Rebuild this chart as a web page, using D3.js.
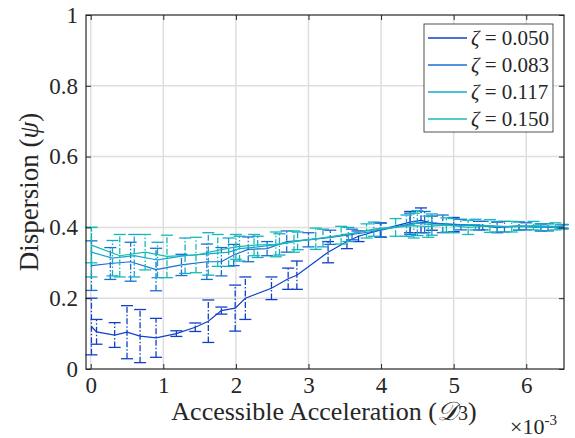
<!DOCTYPE html>
<html>
<head>
<meta charset="utf-8">
<script src="https://cdnjs.cloudflare.com/ajax/libs/d3/7.8.5/d3.min.js"></script>
<style>
  body { margin: 0; background: #fff; }
</style>
</head>
<body>
<script>
// series labels and colours
const zetas = ['0.050', '0.083', '0.117', '0.150'];
const colors = ['#1040c8', '#1a6ed2', '#16a8cc', '#14bdb3'];

// zeta = 0.050
const x1 = [0.01, 0.08, 0.33, 0.50, 0.68, 0.90, 1.18, 1.44, 1.62, 1.80, 1.99, 2.13, 2.49, 2.72, 2.84, 3.27, 3.53, 3.69, 3.99, 4.40, 4.55, 4.70, 5.00, 5.35, 5.60, 5.90, 6.20, 6.50];
const y1 = [0.120, 0.105, 0.096, 0.104, 0.093, 0.088, 0.100, 0.118, 0.135, 0.165, 0.172, 0.200, 0.228, 0.255, 0.265, 0.330, 0.360, 0.375, 0.393, 0.415, 0.420, 0.412, 0.408, 0.405, 0.400, 0.404, 0.400, 0.403];
const e1 = [0.080, 0.035, 0.035, 0.075, 0.075, 0.055, 0.008, 0.012, 0.060, 0.010, 0.065, 0.060, 0.032, 0.030, 0.040, 0.030, 0.020, 0.015, 0.020, 0.030, 0.035, 0.020, 0.020, 0.012, 0.015, 0.012, 0.010, 0.005];

// zeta = 0.083
const x2 = [0.01, 0.27, 0.55, 0.90, 1.25, 1.60, 1.80, 1.97, 2.17, 2.43, 2.70, 3.00, 3.30, 3.60, 4.00, 4.40, 4.60, 4.85, 5.10, 5.40, 5.70, 6.00, 6.30, 6.50];
const y2 = [0.292, 0.298, 0.303, 0.281, 0.294, 0.303, 0.303, 0.322, 0.338, 0.340, 0.360, 0.365, 0.372, 0.380, 0.392, 0.410, 0.415, 0.410, 0.408, 0.405, 0.402, 0.403, 0.400, 0.402];
const e2 = [0.070, 0.045, 0.055, 0.060, 0.030, 0.050, 0.040, 0.030, 0.035, 0.020, 0.030, 0.020, 0.020, 0.015, 0.020, 0.030, 0.030, 0.025, 0.015, 0.012, 0.015, 0.010, 0.010, 0.006];

// zeta = 0.117
const x3 = [0.01, 0.30, 0.60, 0.92, 1.30, 1.62, 1.90, 2.05, 2.30, 2.60, 2.85, 3.20, 3.55, 3.90, 4.35, 4.50, 4.70, 5.00, 5.30, 5.60, 5.90, 6.20, 6.50];
const y3 = [0.330, 0.313, 0.320, 0.308, 0.320, 0.325, 0.330, 0.340, 0.345, 0.352, 0.362, 0.370, 0.380, 0.395, 0.405, 0.412, 0.408, 0.405, 0.408, 0.402, 0.404, 0.400, 0.402];
const e3 = [0.070, 0.050, 0.060, 0.050, 0.050, 0.060, 0.040, 0.035, 0.030, 0.030, 0.025, 0.025, 0.020, 0.020, 0.030, 0.035, 0.030, 0.020, 0.015, 0.015, 0.012, 0.010, 0.006];

// zeta = 0.150
const x4 = [0.01, 0.40, 0.75, 1.05, 1.45, 1.75, 2.00, 2.25, 2.55, 2.80, 3.10, 3.45, 3.80, 4.20, 4.45, 4.65, 4.90, 5.20, 5.50, 5.80, 6.10, 6.40];
const y4 = [0.350, 0.320, 0.330, 0.318, 0.322, 0.335, 0.345, 0.350, 0.352, 0.360, 0.368, 0.378, 0.390, 0.400, 0.405, 0.402, 0.407, 0.400, 0.404, 0.402, 0.405, 0.403];
const e4 = [0.050, 0.060, 0.050, 0.060, 0.050, 0.045, 0.035, 0.030, 0.035, 0.030, 0.030, 0.025, 0.020, 0.025, 0.035, 0.030, 0.020, 0.020, 0.018, 0.015, 0.012, 0.010];

const xTicks = [0, 1, 2, 3, 4, 5, 6];
const yTicks = [0, 0.2, 0.4, 0.6, 0.8, 1];

const width = 575, height = 438;
const plot = { left: 86, right: 564, top: 15, bottom: 369 };
const serif = "'Liberation Serif', serif";
const textColor = '#262626';

const series = [
    { x: x1, y: y1, e: e1 },
    { x: x2, y: y2, e: e2 },
    { x: x3, y: y3, e: e3 },
    { x: x4, y: y4, e: e4 }
];

const xScale = d3.scaleLinear().domain([-0.065, 6.52]).range([plot.left, plot.right]);
const yScale = d3.scaleLinear().domain([0, 1]).range([plot.bottom, plot.top]);

const svg = d3.select('body')
    .append('svg')
    .attr('width', width)
    .attr('height', height)
    .attr('font-family', serif);

// grid
svg.append('g')
    .selectAll('line')
    .data(xTicks)
    .enter()
    .append('line')
    .attr('x1', d => xScale(d)).attr('x2', d => xScale(d))
    .attr('y1', plot.top).attr('y2', plot.bottom)
    .attr('stroke', '#dedede').attr('stroke-width', 1.5);

svg.append('g')
    .selectAll('line')
    .data(yTicks.slice(1, -1))
    .enter()
    .append('line')
    .attr('x1', plot.left).attr('x2', plot.right)
    .attr('y1', d => yScale(d)).attr('y2', d => yScale(d))
    .attr('stroke', '#dedede').attr('stroke-width', 1.5);

// error bars + lines
const capHalf = 6;
series.forEach((s, i) => {
    const pts = s.x.map((x, k) => ({ x: x, y: s.y[k], e: s.e[k] }));
    const g = svg.append('g').attr('stroke', colors[i]).attr('fill', 'none').attr('stroke-width', 1.3);

    g.selectAll('line.bar')
        .data(pts)
        .enter()
        .append('line')
        .attr('x1', d => xScale(d.x)).attr('x2', d => xScale(d.x))
        .attr('y1', d => yScale(d.y - d.e)).attr('y2', d => yScale(d.y + d.e))
        .attr('stroke-dasharray', '6,2,1.5,2');

    g.selectAll('line.capLo')
        .data(pts)
        .enter()
        .append('line')
        .attr('x1', d => xScale(d.x) - capHalf).attr('x2', d => xScale(d.x) + capHalf)
        .attr('y1', d => yScale(d.y - d.e)).attr('y2', d => yScale(d.y - d.e));

    g.selectAll('line.capHi')
        .data(pts)
        .enter()
        .append('line')
        .attr('x1', d => xScale(d.x) - capHalf).attr('x2', d => xScale(d.x) + capHalf)
        .attr('y1', d => yScale(d.y + d.e)).attr('y2', d => yScale(d.y + d.e));

    g.append('path')
        .datum(pts)
        .attr('stroke-width', 1.2)
        .attr('d', d3.line().x(d => xScale(d.x)).y(d => yScale(d.y)));
});

// axes (box with inward ticks)
const tickLen = 5;

const bottomAxis = svg.append('g')
    .attr('transform', `translate(0, ${plot.bottom})`)
    .call(d3.axisBottom(xScale).tickValues(xTicks).tickSize(-tickLen).tickPadding(8).tickFormat(d3.format('d')));
const topAxis = svg.append('g')
    .attr('transform', `translate(0, ${plot.top})`)
    .call(d3.axisTop(xScale).tickValues(xTicks).tickSize(-tickLen).tickFormat(''));
const leftAxis = svg.append('g')
    .attr('transform', `translate(${plot.left}, 0)`)
    .call(d3.axisLeft(yScale).tickValues(yTicks).tickSize(-tickLen).tickPadding(8).tickFormat(d => d === 0 || d === 1 ? d3.format('d')(d) : d3.format('.1f')(d)));
const rightAxis = svg.append('g')
    .attr('transform', `translate(${plot.right}, 0)`)
    .call(d3.axisRight(yScale).tickValues(yTicks).tickSize(-tickLen).tickFormat(''));

[bottomAxis, topAxis, leftAxis, rightAxis].forEach(a => {
    a.attr('font-family', serif).attr('font-size', 23);
    a.select('.domain').remove();
    a.selectAll('.tick line').attr('stroke', textColor).attr('stroke-width', 1);
    a.selectAll('.tick text').attr('fill', textColor).attr('font-family', serif);
});

svg.append('rect')
    .attr('x', plot.left).attr('y', plot.top)
    .attr('width', plot.right - plot.left).attr('height', plot.bottom - plot.top)
    .attr('fill', 'none').attr('stroke', textColor).attr('stroke-width', 1.2);

// axis labels
const yLabel = svg.append('text')
    .attr('transform', `translate(38, ${(plot.top + plot.bottom) / 2}) rotate(-90)`)
    .attr('text-anchor', 'middle')
    .attr('font-family', serif)
    .attr('fill', textColor)
    .attr('font-size', 27);
yLabel.append('tspan').text('Dispersion (');
yLabel.append('tspan').attr('font-style', 'italic').text('ψ');
yLabel.append('tspan').text(')');

const xLabel = svg.append('text')
    .attr('x', 324)
    .attr('y', 420)
    .attr('text-anchor', 'middle')
    .attr('font-family', serif)
    .attr('fill', textColor)
    .attr('font-size', 26);
xLabel.append('tspan').text('Accessible Acceleration (');
xLabel.append('tspan').attr('font-style', 'italic').text('𝒟');
xLabel.append('tspan').attr('font-size', 20).text('3');
xLabel.append('tspan').text(')');

const expLabel = svg.append('text')
    .attr('x', 510)
    .attr('y', 434)
    .attr('font-family', serif)
    .attr('fill', textColor)
    .attr('font-size', 22);
expLabel.append('tspan').text('×10');
expLabel.append('tspan').attr('dy', -9).attr('font-size', 15).text('-3');

// legend
const legend = svg.append('g').attr('transform', 'translate(424, 24)');
legend.append('rect')
    .attr('width', 129).attr('height', 108)
    .attr('fill', '#fff').attr('stroke', textColor).attr('stroke-width', 0.8);

const rows = legend.selectAll('g.row')
    .data(zetas)
    .enter()
    .append('g')
    .attr('transform', (d, i) => `translate(0, ${14 + i * 27})`);

rows.append('line')
    .attr('x1', 4).attr('x2', 43)
    .attr('stroke', (d, i) => colors[i]).attr('stroke-width', 1.3);

const rowText = rows.append('text')
    .attr('x', 47).attr('y', 7)
    .attr('font-family', serif)
    .attr('fill', textColor)
    .attr('font-size', 21);
rowText.append('tspan').attr('font-style', 'italic').text('ζ');
rowText.append('tspan').text(d => ' = ' + d);
</script>
</body>
</html>
